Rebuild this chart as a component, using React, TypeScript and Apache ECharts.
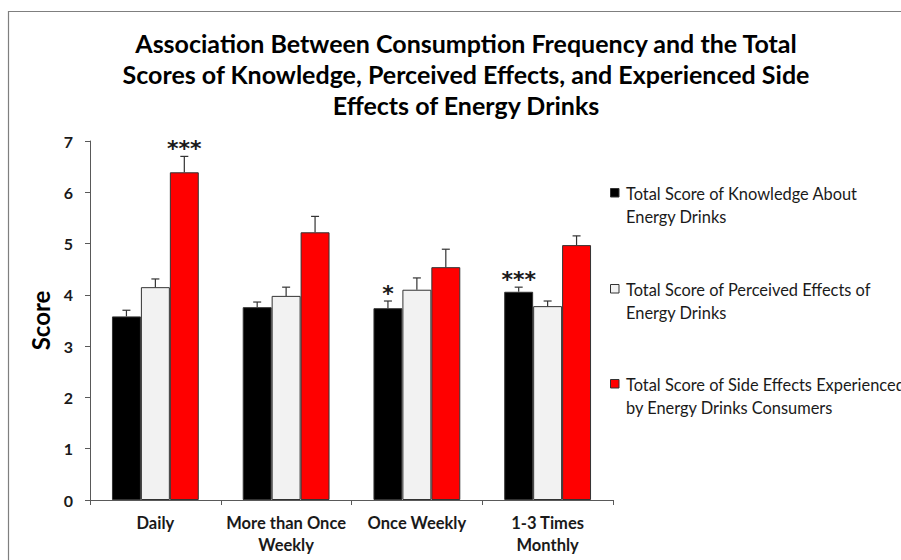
import React, { useEffect, useRef } from "react";
import * as echarts from "echarts";

const titleText =
  "Association Between Consumption Frequency and the Total\nScores of Knowledge, Perceived Effects, and Experienced Side\nEffects of Energy Drinks";
const categories = ["Daily", "More than Once\nWeekly", "Once Weekly", "1-3 Times\nMonthly"];
const seriesNames = [
  "Total Score of Knowledge About\nEnergy Drinks",
  "Total Score of Perceived Effects of\nEnergy Drinks",
  "Total Score of Side Effects Experienced\nby Energy Drinks Consumers",
];
const knowledge = [3.58, 3.76, 3.74, 4.06];
const knowledgeErr = [0.12, 0.1, 0.14, 0.09];
const perceived = [4.15, 3.98, 4.1, 3.78];
const perceivedErr = [0.16, 0.17, 0.23, 0.1];
const sideEffects = [6.39, 5.22, 4.54, 4.97];
const sideEffectsErr = [0.31, 0.31, 0.35, 0.18];
// [category index, series index, marker]
const significance: [number, number, string][] = [
  [0, 2, "***"],
  [2, 0, "*"],
  [3, 0, "***"],
];
const yTicks = { min: 0, max: 7, interval: 1 };

const colors = ["#000000", "#f2f2f2", "#ff0000"];
const FONT = "Lato, 'Open Sans', sans-serif";
const GAP = 0.336;

export default function App() {
  const ref = useRef<HTMLDivElement>(null);
  useEffect(() => {
    if (!ref.current) return;
    const chart = echarts.init(ref.current, null, { renderer: "svg" });
    const values = [knowledge, perceived, sideEffects];
    const errs = [knowledgeErr, perceivedErr, sideEffectsErr];
    const errData: number[][] = [];
    const errLabels: string[] = [];
    for (let s = 0; s < 3; s++) {
      for (let c = 0; c < categories.length; c++) {
        errData.push([c, s, values[s][c], errs[s][c]]);
        const sig = significance.find((g) => g[0] === c && g[1] === s);
        errLabels.push(sig ? sig[2] : "");
      }
    }
    const legendTops = [193, 289, 384];
    const legendGraphics: any[] = [];
    seriesNames.forEach((n, i) => {
      legendGraphics.push({
        type: "rect",
        shape: { x: 610.5, y: legendTops[i] - 4.5, width: 8.5, height: 8.5 },
        style: { fill: colors[i], stroke: "#333", lineWidth: 1 },
      });
      legendGraphics.push({
        type: "text",
        x: 626,
        y: legendTops[i] - 11.5,
        style: {
          text: n,
          font: `16.4px ${FONT}`,
          fill: "#1a1a1a",
          lineHeight: 23,
          textVerticalAlign: "top",
        },
      });
    });

    chart.setOption({
      animation: false,
      backgroundColor: "#ffffff",
      title: {
        text: titleText,
        left: 461,
        top: 22,
        textAlign: "center",
        textStyle: {
          fontFamily: FONT,
          fontSize: 25,
          fontWeight: "bold",
          lineHeight: 31,
          color: "#000",
        },
      },
      grid: { left: 90, right: 288, top: 141, bottom: 60, containLabel: false },
      xAxis: {
        type: "category",
        data: categories,
        axisLine: { lineStyle: { color: "#595959", width: 1 } },
        axisTick: { show: true, length: 5, lineStyle: { color: "#595959" } },
        axisLabel: {
          fontFamily: FONT,
          fontSize: 16.5,
          fontWeight: "bold",
          color: "#1a1a1a",
          lineHeight: 22,
          margin: 12,
          interval: 0,
        },
      },
      yAxis: {
        type: "value",
        min: yTicks.min,
        max: yTicks.max,
        interval: yTicks.interval,
        name: "Score",
        nameLocation: "middle",
        nameGap: 33,
        nameTextStyle: { fontFamily: FONT, fontSize: 24, fontWeight: "bold", color: "#000" },
        axisLine: { show: true, lineStyle: { color: "#595959", width: 1 } },
        axisTick: { show: true, length: 5, lineStyle: { color: "#595959" } },
        splitLine: { show: false },
        axisLabel: {
          fontFamily: FONT,
          fontSize: 16,
          fontWeight: "bold",
          color: "#1a1a1a",
          margin: 17,
        },
      },
      graphic: [
        {
          type: "rect",
          shape: { x: 8.5, y: 11.5, width: 1000, height: 700 },
          style: { fill: "none", stroke: "#7f7f7f", lineWidth: 1.2 },
          z: -10,
        },
        ...legendGraphics,
      ],
      series: [
        ...values.map((v, i) => ({
          type: "bar",
          name: seriesNames[i],
          data: v,
          barGap: "0%",
          barCategoryGap: `${GAP * 100}%`,
          itemStyle: { color: colors[i], borderColor: "#333", borderWidth: 1 },
        })),
        {
          type: "custom",
          z: 10,
          data: errData,
          encode: { x: 0, y: 2 },
          renderItem: (params: any, api: any) => {
            const c = api.value(0);
            const s = api.value(1);
            const v = api.value(2);
            const e = api.value(3);
            const catW = api.size([1, 0])[0];
            const barW = (catW * (1 - GAP)) / 3;
            const base = api.coord([c, v]);
            const top = api.coord([c, v + e]);
            const x = base[0] + (s - 1) * barW;
            const st = { stroke: "#333", lineWidth: 1.2 };
            const children: any[] = [
              { type: "line", shape: { x1: x, y1: base[1], x2: x, y2: top[1] }, style: st },
              { type: "line", shape: { x1: x - 4, y1: top[1], x2: x + 4, y2: top[1] }, style: st },
            ];
            const lbl = errLabels[params.dataIndex];
            if (lbl) {
              children.push({
                type: "text",
                x,
                y: top[1] - 8,
                style: {
                  text: lbl,
                  font: `bold 22px 'DejaVu Sans', sans-serif`,
                  fill: "#1a1a1a",
                  textAlign: "center",
                  textVerticalAlign: "middle",
                },
              });
            }
            return { type: "group", children };
          },
        },
      ],
    });
    return () => chart.dispose();
  }, []);
  return (
    <div
      ref={ref}
      style={{ position: "fixed", left: 0, top: 0, width: 901, height: 560 }}
    />
  );
}
